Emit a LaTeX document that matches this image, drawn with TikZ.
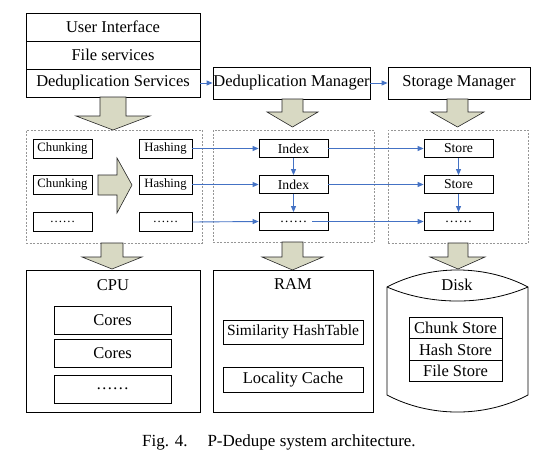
\documentclass[tikz,border=0pt]{standalone}
\usepackage{fontspec}
\setmainfont{Liberation Serif}
\usetikzlibrary{arrows.meta}
\definecolor{flow}{RGB}{68,114,196}
\definecolor{blk}{RGB}{216,217,195}
\definecolor{dashc}{RGB}{150,150,150}
\tikzset{
  box/.style={draw, line width=0.8pt, inner sep=0pt, anchor=center, font=\fontsize{16.5}{18}\selectfont},
  sbox/.style={draw, line width=0.8pt, inner sep=0pt, anchor=center, minimum height=19pt, font=\fontsize{12.7}{14}\selectfont},
  mbox/.style={draw, line width=0.8pt, inner sep=0pt, anchor=center, minimum width=69pt, minimum height=18pt, font=\fontsize{13.7}{15}\selectfont},
  lbl/.style={inner sep=0pt, anchor=center, font=\fontsize{16.5}{18}\selectfont},
  flowarr/.style={draw=flow, line width=0.9pt, -{Triangle[length=6pt,width=5pt]}},
  blockarr/.style={draw=black!85, fill=blk, line width=0.6pt, line join=miter},
  dashbox/.style={draw=dashc, dash pattern=on 2pt off 1.5pt, line width=0.6pt, inner sep=0pt, anchor=center}
}
\begin{document}
\begin{tikzpicture}[x=1pt,y=-1pt]
\useasboundingbox (0,0) rectangle (553,463);
% top stack
\node[box, minimum width=174pt, minimum height=28pt] (ui) at (113,27) {User Interface};
\node[box, minimum width=174pt, minimum height=28pt] (fs) at (113,55) {File services};
\node[box, minimum width=174pt, minimum height=28pt] (ds) at (113,83) {Deduplication Services};
\node[box, minimum width=157pt, minimum height=32pt] (dm) at (291.5,83) {Deduplication Manager};
\node[box, minimum width=142pt, minimum height=32pt] (sm) at (459,83) {Storage Manager};
\draw[flowarr] (ds.east) -- (dm.west);
\draw[flowarr] (dm.east) -- (sm.west);
% block arrows top
\draw[blockarr] (100,97) -- (126,97) -- (126,116) -- (150,116) -- (113,130) -- (76,116) -- (100,116) -- cycle;
\draw[blockarr] (282,99) -- (303,99) -- (303,112) -- (318,112) -- (292.5,127) -- (267,112) -- (282,112) -- cycle;
\draw[blockarr] (447,99) -- (468,99) -- (468,112) -- (484,112) -- (457.5,127) -- (431,112) -- (447,112) -- cycle;
% dashed groups
\node[dashbox, minimum width=176pt, minimum height=113pt] (g1) at (114,186.5) {};
\node[dashbox, minimum width=161pt, minimum height=112pt] (g2) at (293.5,186) {};
\node[dashbox, minimum width=140pt, minimum height=113pt] (g3) at (458,186.5) {};
% row boxes
\node[sbox, minimum width=59pt] (c1) at (62.5,148.5) {Chunking};
\node[sbox, minimum width=59pt] (c2) at (62.5,184.5) {Chunking};
\node[sbox, minimum width=59pt] (c3) at (62.5,222) {……};
\node[sbox, minimum width=53pt] (h1) at (165.5,148.5) {Hashing};
\node[sbox, minimum width=53pt] (h2) at (165.5,184.5) {Hashing};
\node[sbox, minimum width=53pt] (h3) at (165.5,222) {……};
\node[mbox] (i1) at (293.5,148.5) {Index};
\node[mbox] (i2) at (293.5,184.5) {Index};
\node[mbox] (i3) at (293.5,221.5) {……};
\node[mbox] (s1) at (458.5,148.5) {Store};
\node[mbox] (s2) at (458.5,184.5) {Store};
\node[mbox] (s3) at (458.5,221.5) {……};
\coordinate (i3d) at (312,221.5);
% big right arrow
\draw[blockarr] (98,175) -- (117,175) -- (117,158) -- (132,185) -- (117,213) -- (117,195) -- (98,195) -- cycle;
% flow arrows
\draw[flowarr] (h1.east) -- (i1.west);
\draw[flowarr] (h2.east) -- (i2.west);
\draw[flowarr] (h3.east) -- (i3.west);
\draw[flowarr] (i1.east) -- (s1.west);
\draw[flowarr] (i2.east) -- (s2.west);
\draw[flowarr] (i3d) -- (s3.west);
\draw[flowarr] (i1.south) -- (i2.north);
\draw[flowarr] (i2.south) -- (i3.north);
\draw[flowarr] (s1.south) -- (s2.north);
\draw[flowarr] (s2.south) -- (s3.north);
% block arrows bottom
\draw[blockarr] (101,243) -- (123,243) -- (123,257) -- (142,257) -- (112,269) -- (82,257) -- (101,257) -- cycle;
\draw[blockarr] (282,242) -- (303,242) -- (303,257) -- (323,257) -- (292.5,270) -- (262,257) -- (282,257) -- cycle;
\draw[blockarr] (448,243) -- (468,243) -- (468,257) -- (485,257) -- (458,269) -- (430,257) -- (448,257) -- cycle;
% CPU
\node[box, minimum width=174pt, minimum height=142pt] (cpu) at (113,341) {};
\node[lbl] (cpul) at (113,285) {CPU};
\node[box, minimum width=117pt, minimum height=28pt] (co1) at (112.5,320) {Cores};
\node[box, minimum width=117pt, minimum height=28pt] (co2) at (112.5,353) {Cores};
\node[box, minimum width=117pt, minimum height=28pt] (co3) at (112.5,389) {……};
% RAM
\node[box, minimum width=160pt, minimum height=142pt] (ram) at (293,341) {};
\node[lbl] (raml) at (293,284) {RAM};
\node[box, minimum width=140pt, minimum height=24pt, font=\fontsize{15.5}{17}\selectfont] (sim) at (293,332) {Similarity HashTable};
\node[box, minimum width=140pt, minimum height=25pt] (loc) at (293,379.5) {Locality Cache};
% Disk
\draw[line width=0.8pt] (387,287) .. controls (430,264.3) and (485,264.3) .. (528,287) -- (528,395) .. controls (485,417.7) and (430,417.7) .. (387,395) -- cycle;
\draw[line width=0.8pt] (387,287) .. controls (430,305.7) and (485,305.7) .. (528,287);
\node[lbl] (diskl) at (457,285) {Disk};
\node[box, minimum width=93pt, minimum height=21.5pt] (cs) at (455.5,328) {Chunk Store};
\node[box, minimum width=93pt, minimum height=21.5pt] (hs) at (455.5,349.5) {Hash Store};
\node[box, minimum width=93pt, minimum height=21.5pt] (fls) at (455.5,371) {File Store};
% caption
\node[inner sep=0pt, anchor=base west, font=\fontsize{17}{19}\selectfont] (cap) at (142,446) {Fig. 4.\hspace{20pt}P-Dedupe system architecture.};
\end{tikzpicture}
\end{document}
